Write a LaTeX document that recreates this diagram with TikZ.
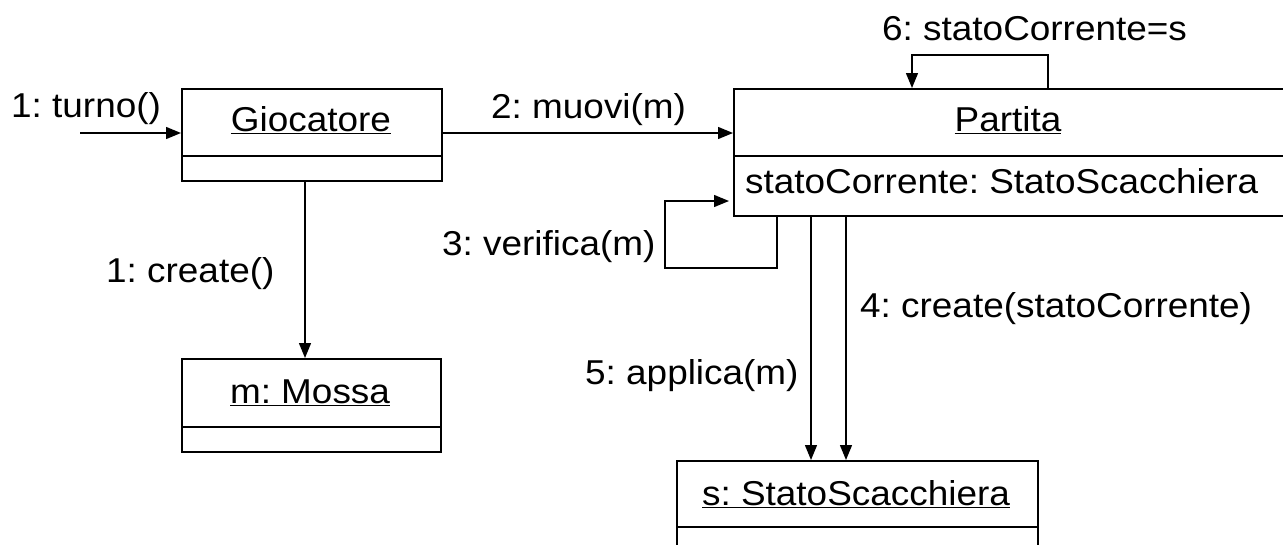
\documentclass[tikz,border=0pt]{standalone}
\usepackage{fontspec}
\setmainfont{Liberation Sans}[FakeStretch=1.07]
\usetikzlibrary{arrows.meta}
\begin{document}
\frenchspacing
\begin{tikzpicture}[x=1pt,y=-1pt,
  box/.style={draw, line width=1.6pt, inner sep=0pt, anchor=north west},
  sep/.style={line width=1.6pt},
  txt/.style={font=\fontsize{34.5}{41}\selectfont, inner sep=0pt, anchor=base},
  txtl/.style={txt, anchor=base west},
  msg/.style={line width=1.4pt, -{Triangle[length=15pt,width=12pt]}},
]
\clip (0,0) rectangle (1283,544);

% objects
\node[box, minimum width=260pt, minimum height=92pt] (gio) at (181,88) {};
\draw[sep] ([yshift=-68pt]gio.north west) -- ([yshift=-68pt]gio.north east);
\node[txt] (gioname) at (311,131) {\underline{Giocatore}};

\node[box, minimum width=259pt, minimum height=93pt] (mos) at (181,358) {};
\draw[sep] ([yshift=-69pt]mos.north west) -- ([yshift=-69pt]mos.north east);
\node[txt] (mosname) at (310,403) {\underline{m: Mossa}};

\node[box, minimum width=552pt, minimum height=127pt] (par) at (733,88) {};
\draw[sep] ([yshift=-68pt]par.north west) -- ([yshift=-68pt]par.north east);
\node[txt] (parname) at (1008,131) {\underline{Partita}};
\node[txtl] (parattr) at (745,193) {statoCorrente: StatoScacchiera};

\node[box, minimum width=361pt, minimum height=92pt] (sta) at (676,460) {};
\draw[sep] ([yshift=-67pt]sta.north west) -- ([yshift=-67pt]sta.north east);
\node[txt] (staname) at (856,505) {\underline{s: StatoScacchiera}};

% messages
\coordinate (turnoStart) at (80,133);
\draw[msg] (turnoStart) -- (turnoStart -| gio.west);
\node[txtl] (m1) at (11,117) {1: turno()};

\draw[msg] (gio.east |- turnoStart) -- (par.west |- turnoStart);
\node[txtl] (m2) at (491,118) {2: muovi(m)};

\coordinate (c1) at (305,0);
\draw[msg] (c1 |- gio.south) -- (c1 |- mos.north);
\node[txtl] (m1c) at (106,282) {1: create()};

\coordinate (l3a) at (777,268);
\coordinate (l3b) at (665,201);
\draw[msg, shorten >=4pt] (l3a |- par.south) -- (l3a) -| (l3b) -- (l3b -| par.west);
\node[txtl] (m3) at (442,255) {3: verifica(m)};

\coordinate (c4) at (846,0);
\draw[msg] (c4 |- par.south) -- (c4 |- sta.north);
\node[txtl] (m4) at (860,317) {4: create(statoCorrente)};

\coordinate (c5) at (811,0);
\draw[msg] (c5 |- par.south) -- (c5 |- sta.north);
\node[txtl] (m5) at (585,384) {5: applica(m)};

\coordinate (l6a) at (1048,55);
\coordinate (l6b) at (912,55);
\draw[msg] (l6a |- par.north) -- (l6a) -- (l6b) -- (l6b |- par.north);
\node[txtl] (m6) at (882,40) {6: statoCorrente=s};
\end{tikzpicture}
\end{document}
